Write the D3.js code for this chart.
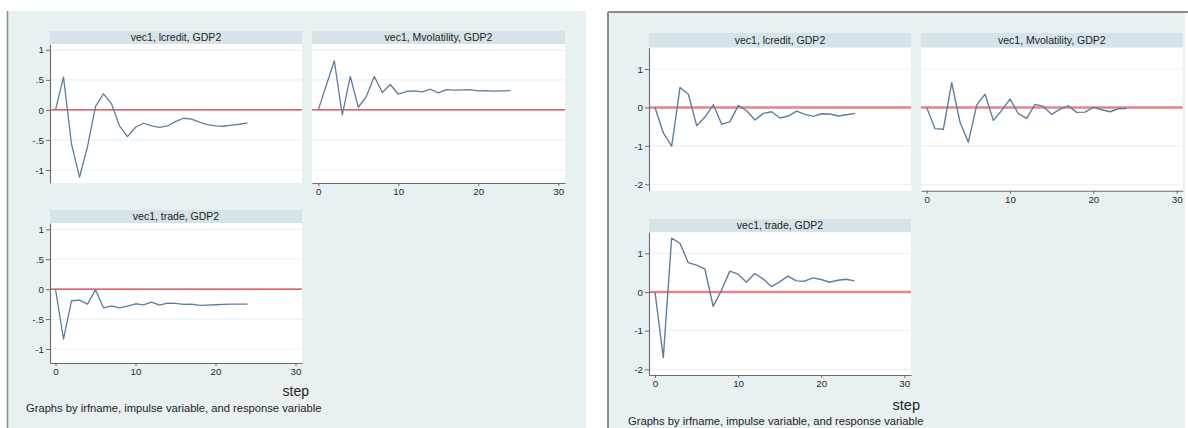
<!DOCTYPE html>
<html>
<head>
<meta charset="utf-8">
<script src="https://cdn.jsdelivr.net/npm/d3@7"></script>
<style>
  body { margin: 0; background: #fff; }
  svg { display: block; }
  text { font-family: "Liberation Sans", Arial, Helvetica, sans-serif; }
</style>
</head>
<body>
<svg id="chart" width="1188" height="428"></svg>
<script>
// ---- data -------------------------------------------------------------
const steps = [0, 1, 2, 3, 4, 5, 6, 7, 8, 9, 10, 11, 12, 13, 14, 15, 16, 17, 18, 19, 20, 21, 22, 23, 24];

const panelTitles = ["vec1, lcredit, GDP2", "vec1, Mvolatility, GDP2", "vec1, trade, GDP2"];

const xTickValues = [0, 10, 20, 30];
const xTickLabels = ["0", "10", "20", "30"];

// first model: y ticks
const yTicksA = [1, 0.5, 0, -0.5, -1];
const yTickLabelsA = ["1", ".5", "0", "-.5", "-1"];
// second model: y ticks
const yTicksB = [1, 0, -1, -2];
const yTickLabelsB = ["1", "0", "-1", "-2"];

// impulse responses of GDP2, first model
const irfA_lcredit = [0, 0.545, -0.567, -1.12, -0.61, 0.055, 0.267, 0.1, -0.267, -0.444, -0.289, -0.222,
  -0.267, -0.289, -0.267, -0.194, -0.139, -0.155, -0.205, -0.244, -0.267, -0.272, -0.255, -0.239, -0.217];
const irfA_mvol = [0, 0.41, 0.817, -0.083, 0.556, 0.044, 0.222, 0.556, 0.289, 0.422, 0.261, 0.306,
  0.317, 0.3, 0.344, 0.283, 0.339, 0.328, 0.333, 0.339, 0.317, 0.322, 0.311, 0.317, 0.322];
const irfA_trade = [0, -0.833, -0.194, -0.183, -0.25, -0.011, -0.311, -0.278, -0.311, -0.283, -0.244, -0.261,
  -0.217, -0.267, -0.233, -0.239, -0.256, -0.25, -0.272, -0.267, -0.261, -0.256, -0.25, -0.25, -0.25];

// impulse responses of GDP2, second model
const irfB_lcredit = [0, -0.664, -1.01, 0.517, 0.345, -0.474, -0.25, 0.069, -0.44, -0.37, 0.052, -0.086,
  -0.328, -0.155, -0.112, -0.276, -0.224, -0.095, -0.181, -0.233, -0.164, -0.172, -0.224, -0.19, -0.155];
const irfB_mvol = [0, -0.552, -0.569, 0.647, -0.388, -0.905, 0.06, 0.345, -0.336, -0.078, 0.216, -0.164,
  -0.284, 0.078, 0.026, -0.181, -0.043, 0.043, -0.129, -0.121, 0, -0.06, -0.112, -0.034, -0.026];
const irfB_trade = [0, -1.696, 1.39, 1.26, 0.757, 0.696, 0.591, -0.374, 0.043, 0.539, 0.461, 0.252,
  0.478, 0.339, 0.139, 0.261, 0.409, 0.287, 0.278, 0.365, 0.322, 0.252, 0.304, 0.33, 0.287];

const xAxisTitle = "step";
const noteText = "Graphs by irfname, impulse variable, and response variable";

// ---- styles -----------------------------------------------------------
const C = {
  graphBg: "#e8f0f2",
  strip: "#d6e4ea",
  plotBg: "#ffffff",
  grid: "#eaf1f3",
  axis: "#6b6b6b",
  text: "#2b2b2b",
  border: "#8c8c8c",
  line: "#5f7e9c"
};

const svg = d3.select("#chart");

// ---- drawing helpers --------------------------------------------------
function drawPanel(g, p, fig, title, values) {
  // scales anchored at tick values, then widened to the plot edges
  const xBase = d3.scaleLinear().domain([0, 30]).range([p.x0px, p.x30px]);
  const x = d3.scaleLinear()
    .domain([xBase.invert(p.left), xBase.invert(p.right)])
    .range([p.left, p.right]);
  const yBase = d3.scaleLinear().domain(fig.yAnchor).range(p.yAnchorPx);
  const y = d3.scaleLinear()
    .domain([yBase.invert(p.bottom), yBase.invert(p.top)])
    .range([p.bottom, p.top]);

  // title strip
  g.append("rect")
    .attr("x", p.left).attr("y", p.stripTop)
    .attr("width", p.right - p.left).attr("height", p.top - p.stripTop)
    .attr("fill", C.strip);
  g.append("text")
    .attr("x", (p.left + p.right) / 2)
    .attr("y", (p.stripTop + p.top) / 2 + 3.7)
    .attr("text-anchor", "middle")
    .attr("font-size", 10.5)
    .attr("fill", "#222")
    .text(title);

  // plot region
  g.append("rect")
    .attr("x", p.left).attr("y", p.top)
    .attr("width", p.right - p.left).attr("height", p.bottom - p.top)
    .attr("fill", C.plotBg);

  // horizontal grid at the y ticks
  g.append("g").selectAll("line").data(fig.yTicks).join("line")
    .attr("x1", p.left).attr("x2", p.right)
    .attr("y1", d => y(d)).attr("y2", d => y(d))
    .attr("stroke", C.grid).attr("stroke-width", 1.2);

  // zero reference line
  g.append("line")
    .attr("x1", p.left).attr("x2", p.right)
    .attr("y1", y(0)).attr("y2", y(0))
    .attr("stroke", fig.zeroColor).attr("stroke-width", fig.zeroWidth);

  // response line
  const line = d3.line().x((d, i) => x(steps[i])).y(d => y(d));
  g.append("path")
    .datum(values)
    .attr("d", line)
    .attr("fill", "none")
    .attr("stroke", C.line)
    .attr("stroke-width", fig.lineWidth)
    .attr("stroke-linejoin", "round");

  if (p.yAxis) {
    const ay = g.append("g")
      .attr("transform", `translate(${p.left},0)`)
      .call(d3.axisLeft(y)
        .tickValues(fig.yTicks)
        .tickFormat((d, i) => fig.yTickLabels[i])
        .tickSizeInner(4).tickSizeOuter(0).tickPadding(2));
    styleAxis(ay);
  }
  if (p.xAxis) {
    const ax = g.append("g")
      .attr("transform", `translate(0,${p.bottom})`)
      .call(d3.axisBottom(x)
        .tickValues(xTickValues)
        .tickFormat((d, i) => xTickLabels[i])
        .tickSizeInner(3).tickSizeOuter(0).tickPadding(2));
    styleAxis(ax);
  }
}

function styleAxis(a) {
  a.select(".domain").attr("stroke", C.axis).attr("stroke-width", 1.1);
  a.selectAll(".tick line").attr("stroke", C.axis).attr("stroke-width", 1);
  a.selectAll(".tick text")
    .attr("fill", C.text)
    .attr("font-size", 9.8)
    .style("font-family", '"Liberation Sans", Arial, Helvetica, sans-serif');
}

function drawFigure(fig, series) {
  const g = svg.append("g");
  g.append("rect")
    .attr("x", fig.bg[0]).attr("y", fig.bg[1])
    .attr("width", fig.bg[2] - fig.bg[0]).attr("height", fig.bg[3] - fig.bg[1])
    .attr("fill", C.graphBg);
  fig.borders.forEach(b => {
    g.append("line")
      .attr("x1", b[0]).attr("y1", b[1]).attr("x2", b[2]).attr("y2", b[3])
      .attr("stroke", C.border).attr("stroke-width", fig.borderWidth);
  });
  fig.panels.forEach((p, i) => drawPanel(g, p, fig, panelTitles[i], series[i]));

  g.append("text")
    .attr("x", fig.stepPos[0]).attr("y", fig.stepPos[1])
    .attr("text-anchor", "end")
    .attr("font-size", fig.stepSize)
    .attr("fill", "#222")
    .text(xAxisTitle);
  g.append("text")
    .attr("x", fig.notePos[0]).attr("y", fig.notePos[1])
    .attr("font-size", fig.noteSize)
    .attr("fill", "#222")
    .text(noteText);
}

// ---- first model --------------------------------------------------------
const figA = {
  bg: [7, 11, 586, 428],
  borders: [[7.5, 11, 7.5, 428]],
  borderWidth: 1.5,
  yTicks: yTicksA, yTickLabels: yTickLabelsA,
  yAnchor: [-1, 1],
  zeroColor: "#e23444", zeroWidth: 1.3, lineWidth: 1.3,
  stepPos: [309, 396], stepSize: 14,
  notePos: [26, 411.5], noteSize: 11.2,
  panels: [
    { left: 50, right: 302, stripTop: 31, top: 44, bottom: 183,
      x0px: 55.5, x30px: 295.5, yAnchorPx: [170, 49.8], yAxis: true, xAxis: false },
    { left: 312, right: 565, stripTop: 31, top: 44, bottom: 183,
      x0px: 318.3, x30px: 558.3, yAnchorPx: [170, 49.8], yAxis: false, xAxis: true },
    { left: 50, right: 302, stripTop: 210, top: 223, bottom: 363,
      x0px: 55.5, x30px: 295.5, yAnchorPx: [349, 229.3], yAxis: true, xAxis: true }
  ]
};

// ---- second model -------------------------------------------------------
const figB = {
  bg: [608, 12, 1185, 428],
  borders: [[608, 12, 1188, 12], [608, 12, 608, 428]],
  borderWidth: 2,
  yTicks: yTicksB, yTickLabels: yTickLabelsB,
  yAnchor: [-2, 1],
  zeroColor: "#e5838f", zeroWidth: 2.4, lineWidth: 1.4,
  stepPos: [920, 410], stepSize: 14.5,
  notePos: [628, 424.5], noteSize: 11.2,
  panels: [
    { left: 649, right: 911, stripTop: 33, top: 47.7, bottom: 190.7,
      x0px: 655, x30px: 905, yAnchorPx: [184.3, 69], yAxis: true, xAxis: false },
    { left: 921, right: 1182.7, stripTop: 33, top: 47.7, bottom: 190.7,
      x0px: 926.7, x30px: 1176.7, yAnchorPx: [184.3, 69], yAxis: false, xAxis: true },
    { left: 649, right: 911, stripTop: 219, top: 232.3, bottom: 375,
      x0px: 655, x30px: 904.3, yAnchorPx: [369.3, 253.3], yAxis: true, xAxis: true }
  ]
};

drawFigure(figA, [irfA_lcredit, irfA_mvol, irfA_trade]);
drawFigure(figB, [irfB_lcredit, irfB_mvol, irfB_trade]);
</script>
</body>
</html>
